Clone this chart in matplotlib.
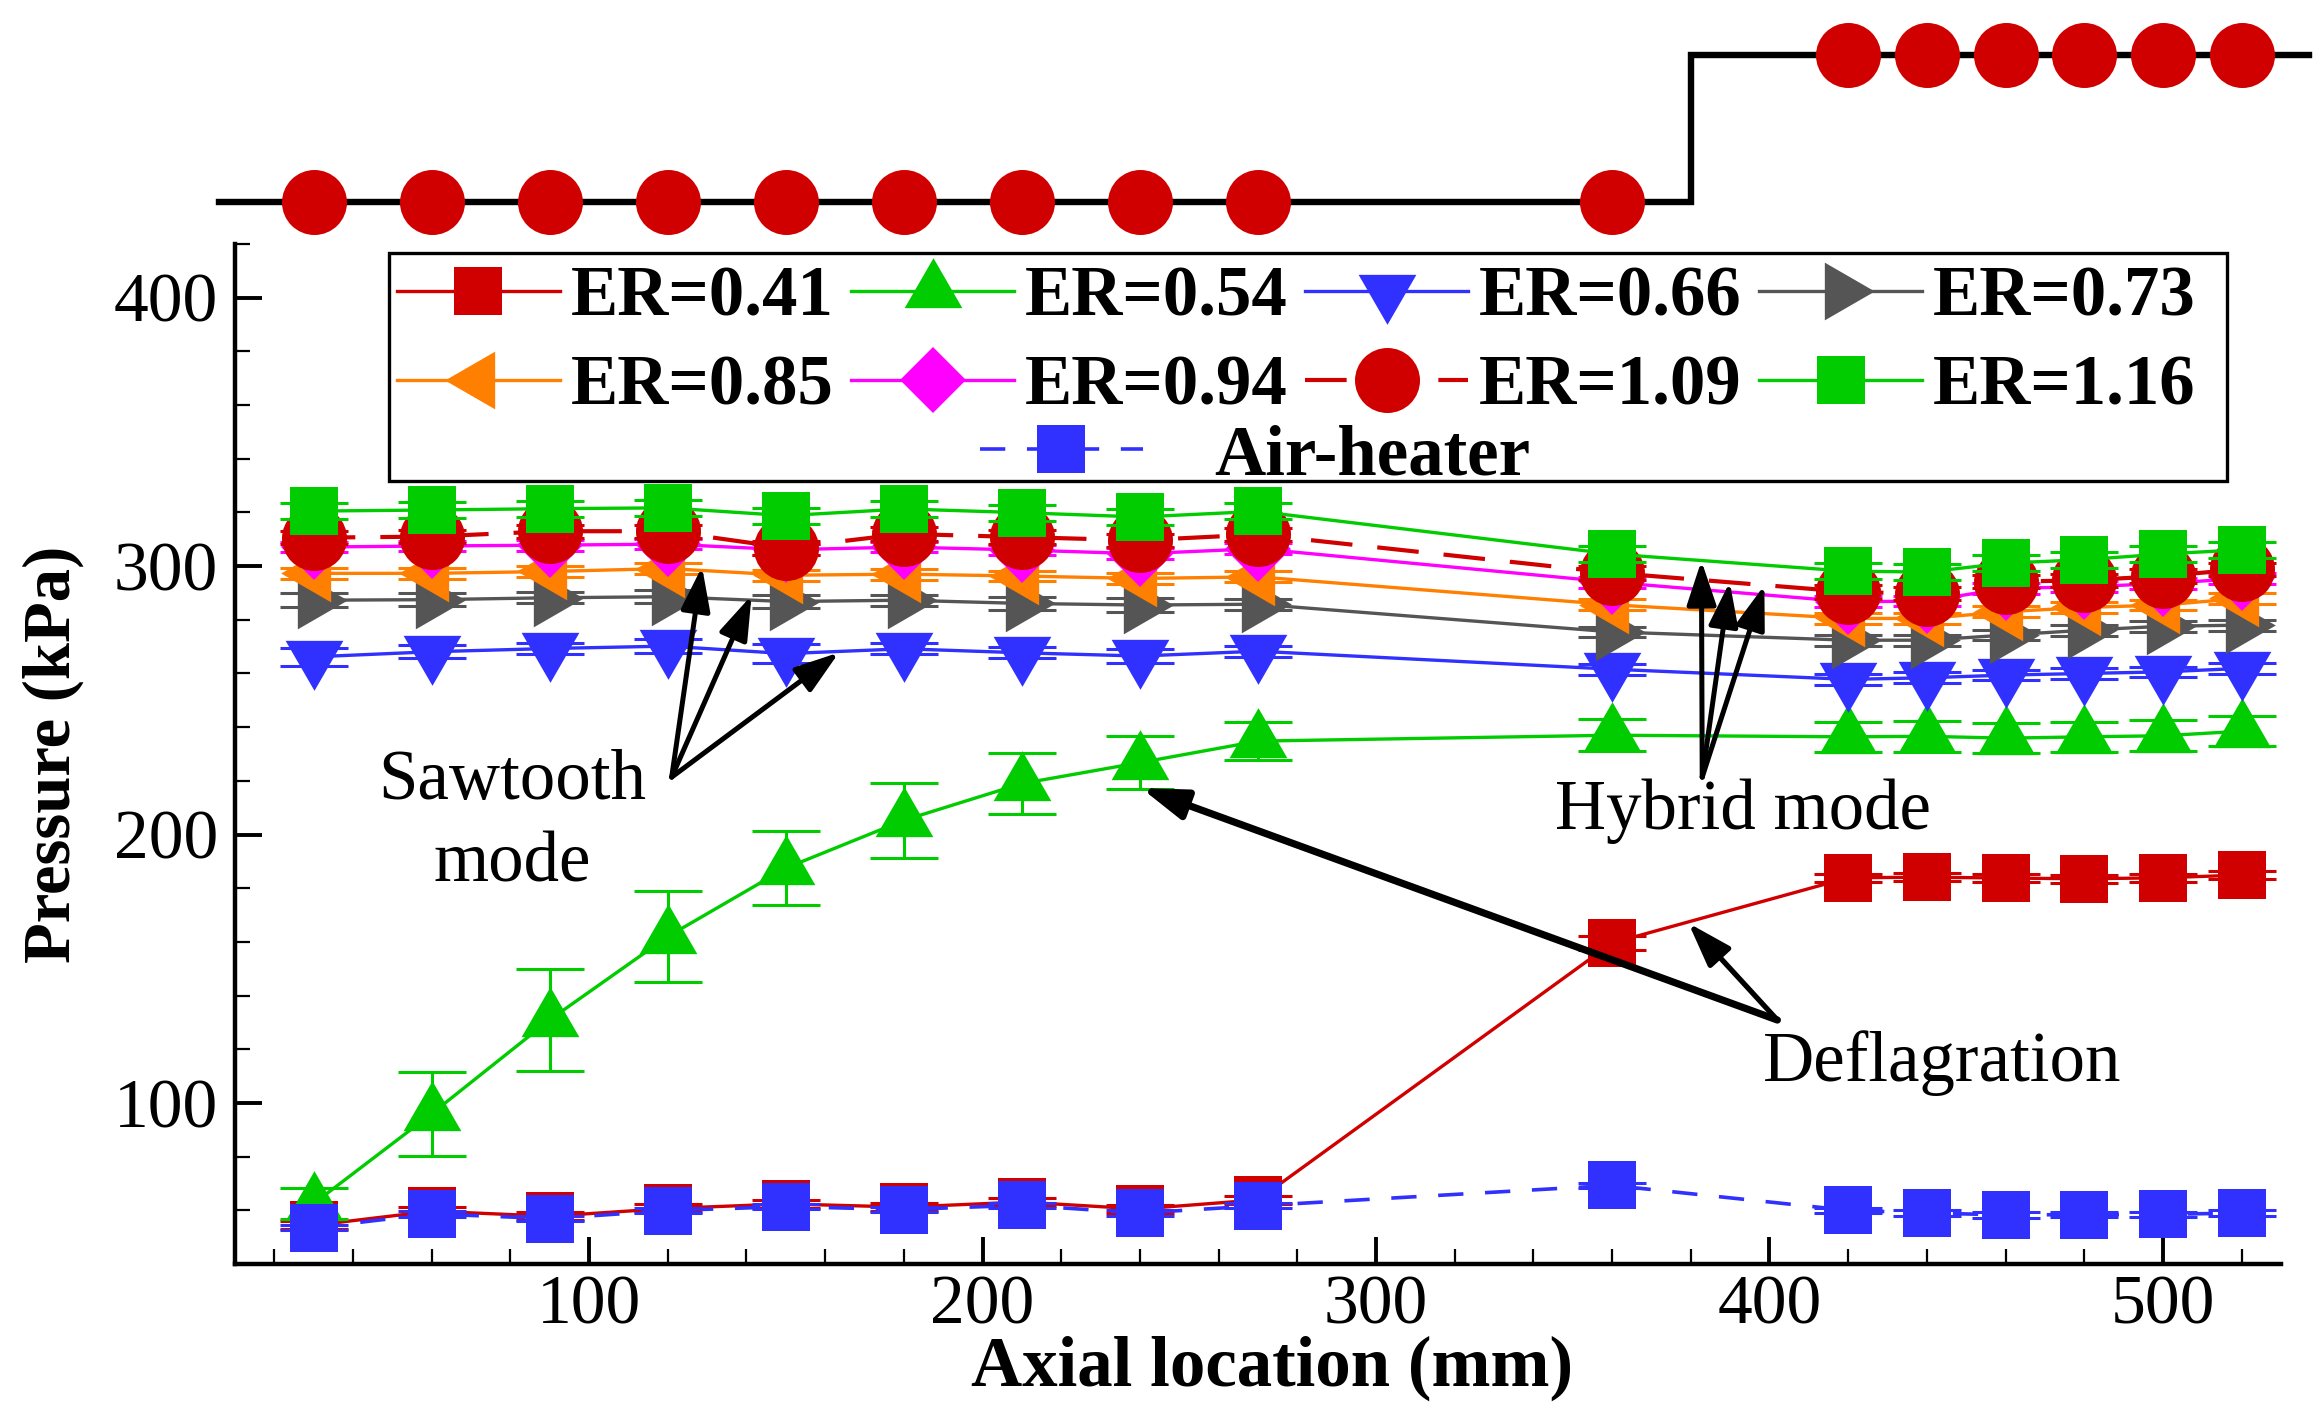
import numpy as np
import matplotlib
matplotlib.use('Agg')
import matplotlib.pyplot as plt
from matplotlib.ticker import MultipleLocator
from matplotlib.patches import Rectangle

plt.rcParams['font.family'] = ['Liberation Serif', 'DejaVu Serif']

# ── data ─────────────────────────────────────────────────────────────────
axial_mm = [30, 60, 90, 120, 150, 180, 210, 240, 270, 360, 420, 440, 460, 480, 500, 520]

p_041 = [54.4, 59.7, 57.8, 60.7, 62.4, 61.2, 63.1, 60.5, 63.9, 159.6, 183.9, 184.1, 183.8, 183.5, 183.9, 184.9]
p_054 = [62.5, 96.0, 131.0, 162.0, 187.5, 205.3, 219.0, 226.8, 234.8, 237.0, 236.4, 236.6, 235.9, 236.4, 236.8, 238.5]
p_066 = [266.2, 268.1, 269.3, 270.2, 267.4, 269.2, 267.7, 266.5, 268.3, 261.6, 257.8, 258.4, 259.4, 260.0, 260.6, 261.9]
p_073 = [287.3, 287.5, 288.2, 288.6, 286.8, 287.3, 286.1, 285.5, 285.8, 275.5, 272.4, 272.4, 274.3, 276.1, 277.6, 278.0]
p_085 = [297.3, 297.3, 298.0, 299.1, 296.6, 297.0, 296.3, 295.4, 296.0, 285.6, 280.5, 280.5, 283.0, 284.6, 285.5, 288.0]
p_094 = [307.1, 307.5, 307.8, 308.2, 306.1, 307.1, 306.0, 304.6, 306.5, 294.0, 286.7, 287.0, 291.7, 292.3, 293.5, 295.4]
p_109 = [310.6, 311.0, 313.0, 313.0, 306.8, 312.0, 310.8, 309.6, 311.8, 297.5, 290.4, 289.7, 294.2, 294.7, 296.3, 298.8]
p_116 = [320.5, 320.9, 321.4, 321.7, 318.8, 321.3, 319.9, 318.3, 320.4, 304.5, 298.1, 297.8, 301.1, 302.4, 304.5, 306.1]
p_air = [53.5, 58.7, 56.9, 59.9, 61.4, 60.3, 61.9, 59.0, 61.7, 69.3, 60.0, 59.0, 58.3, 58.4, 58.5, 59.0]

# error bar half-widths (kPa)
e_041 = [1.5, 1.5, 1.5, 1.5, 1.5, 1.5, 1.5, 1.5, 1.5, 2.5, 1.5, 1.5, 1.5, 1.5, 1.5, 1.5]
e_054 = [5.9, 15.7, 19.0, 17.0, 13.7, 14.0, 11.4, 9.8, 7.2, 6.0, 5.7, 5.7, 5.7, 5.7, 5.7, 5.7]
e_066 = [3.4, 2.5, 2.0, 2.5, 3.5, 2.0, 2.0, 2.5, 2.0, 2.0, 2.0, 2.0, 2.0, 2.0, 2.0, 2.0]
e_073 = [2.5, 2.5, 2.0, 2.5, 2.5, 2.0, 2.5, 2.5, 2.0, 2.0, 2.0, 2.0, 2.0, 2.0, 2.0, 2.0]
e_085 = [2.0, 2.0, 2.0, 2.0, 2.0, 2.0, 2.0, 2.0, 2.0, 2.0, 2.0, 2.0, 2.0, 2.0, 2.0, 2.0]
e_094 = [2.0, 2.0, 2.0, 2.0, 2.0, 2.0, 2.0, 2.0, 2.0, 2.0, 2.0, 2.0, 2.0, 2.0, 2.0, 2.0]
e_109 = [2.5, 2.5, 2.5, 2.5, 2.5, 2.5, 2.5, 2.5, 2.5, 2.5, 2.5, 2.5, 2.5, 2.5, 2.5, 2.5]
e_116 = [3.0, 3.0, 3.0, 3.0, 3.0, 3.0, 3.0, 3.0, 3.0, 3.0, 3.0, 3.0, 3.0, 3.0, 3.0, 3.0]
e_air = [1.0, 1.0, 1.0, 1.0, 1.0, 1.0, 1.0, 1.0, 1.0, 1.0, 1.0, 1.0, 1.0, 1.0, 1.0, 1.0]

labels = ['ER=0.41', 'ER=0.54', 'ER=0.66', 'ER=0.73',
          'ER=0.85', 'ER=0.94', 'ER=1.09', 'ER=1.16', 'Air-heater']

# combustor wall outline (schematic above the plot): step at 380 mm
wall_x     = [6, 380, 380, 537]
wall_level = [0, 0, 1, 1]
step_x     = 380

# ── marker shapes (triangles centred on their centroid, like Tecplot) ────
tri_up    = [(0, 1), (-0.866, -0.5), (0.866, -0.5)]
tri_down  = [(0, -1), (-0.866, 0.5), (0.866, 0.5)]
tri_right = [(1, 0), (-0.5, 0.866), (-0.5, -0.866)]
tri_left  = [(-1, 0), (0.5, 0.866), (0.5, -0.866)]

series = [
    (p_041, e_041, '#D00000', 's',       17, '-',            1.2),
    (p_054, e_054, '#00CC00', tri_up,    24, '-',            1.2),
    (p_066, e_066, '#3030FF', tri_down,  24, '-',            1.2),
    (p_073, e_073, '#555555', tri_right, 24, '-',            1.2),
    (p_085, e_085, '#FF8000', tri_left,  24, '-',            1.2),
    (p_094, e_094, '#FF00FF', 'D',       17, '-',            1.2),
    (p_109, e_109, '#D00000', 'o',       23.4, (0, (10, 6)), 1.5),
    (p_116, e_116, '#00CC00', 's',       17, '-',            1.2),
    (p_air, e_air, '#3030FF', 's',       17, (0, (7, 6)),    1.3),
]

fig = plt.figure(figsize=(11.62, 7.06), dpi=200)
ax = fig.add_axes([0.1011, 0.1048, 0.8804, 0.7224])

handles = []
for i, (y, err, col, mk, ms, ls, lw) in enumerate(series):
    ax.errorbar(axial_mm, y, yerr=err, fmt='none', ecolor=col,
                elinewidth=1.1, capsize=12.4, capthick=1.1, zorder=2 + 2 * i)
    ln, = ax.plot(axial_mm, y, color=col, linestyle=ls, linewidth=lw,
                  marker=mk, markersize=ms, markeredgewidth=0,
                  zorder=3 + 2 * i, label=labels[i])
    handles.append(ln)

ax.set_xlim(10, 530)
ax.set_ylim(40, 420)
ax.xaxis.set_major_locator(MultipleLocator(100))
ax.xaxis.set_minor_locator(MultipleLocator(20))
ax.yaxis.set_major_locator(MultipleLocator(100))
ax.yaxis.set_minor_locator(MultipleLocator(20))
ax.spines['top'].set_visible(False)
ax.spines['right'].set_visible(False)
for s in ['left', 'bottom']:
    ax.spines[s].set_linewidth(1.6)
ax.tick_params(which='major', direction='in', length=9.6, width=1.4,
               labelsize=25, pad=4)
ax.tick_params(which='minor', direction='in', length=5.4, width=0.8)
ax.tick_params(axis='y', which='major', pad=6)

ax.set_xlabel('Axial location (mm)', fontsize=25.5, fontweight='bold', va='center')
ax.xaxis.set_label_coords(0.507, -0.102)
ax.set_ylabel('Pressure (kPa)', fontsize=24, fontweight='bold', va='center')
ax.yaxis.set_label_coords(-0.089, 0.50)

# ── annotations ───────────────────────────────────────────────────────────
txt = dict(fontsize=25.5, ha='center')
ax.text(80.4, 204.4, 'Sawtooth\nmode', va='center', linespacing=1.34, **txt)
ax.text(393.3, 202.0, 'Hybrid mode', va='baseline', **txt)
ax.text(443.8, 108.0, 'Deflagration', va='baseline', **txt)

def arrow(tail, head, lw=1.8):
    ax.annotate('', xy=head, xytext=tail,
                arrowprops=dict(arrowstyle='-|>,head_length=0.9,head_width=0.3',
                                mutation_scale=15, lw=lw, color='k',
                                shrinkA=0, shrinkB=0), zorder=30)

for head in [(128.7, 299.8), (141.3, 289.1), (163.5, 267.8)]:
    arrow((121.0, 221.4), head)
for head in [(382.7, 302.0), (389.9, 294.1), (398.7, 292.9)]:
    arrow((382.9, 221.4), head)
arrow((402.0, 130.9), (379.4, 167.0), lw=1.9)
arrow((402.0, 130.9), (240.3, 217.3), lw=2.6)

# ── legend (Tecplot-style box with 4 columns) ─────────────────────────────
leg_font = dict(family='Liberation Serif', weight='bold', size=25.5)
order = [0, 4, 1, 5, 2, 6, 3, 7]
leg1 = fig.legend([handles[k] for k in order], [labels[k] for k in order],
                  ncol=4, loc='upper left', bbox_to_anchor=(0.1708, 0.812),
                  frameon=False, borderpad=0, borderaxespad=0,
                  handlelength=2.3, handletextpad=0.15, columnspacing=0.25,
                  labelspacing=0.34, numpoints=1, prop=leg_font)
leg2 = fig.legend([handles[8]], [labels[8]], loc='upper left',
                  bbox_to_anchor=(0.4217, 0.6996), frameon=False, borderpad=0,
                  borderaxespad=0, handlelength=2.3, handletextpad=1.0,
                  numpoints=1, prop=leg_font)
fig.patches.append(Rectangle((0.1674, 0.6594), 0.7909, 0.1614, fill=False,
                             lw=1.2, ec='k', transform=fig.transFigure, zorder=4))

# ── combustor schematic with sensor ports ────────────────────────────────
ax_top = fig.add_axes([0.1011, 0.857, 0.8804, 0.104])
ax_top.set_xlim(ax.get_xlim())
ax_top.set_ylim(0, 1)
ax_top.axis('off')
ax_top.plot(wall_x, wall_level, color='k', lw=2.3, clip_on=False,
            solid_joinstyle='miter')
sensor_level = np.where(np.array(axial_mm) > step_x, 1, 0)
ax_top.plot(axial_mm, sensor_level, linestyle='none', marker='o',
            markersize=23.4, color='#D00000', markeredgewidth=0, clip_on=False)

fig.savefig('out.png', dpi=200)
